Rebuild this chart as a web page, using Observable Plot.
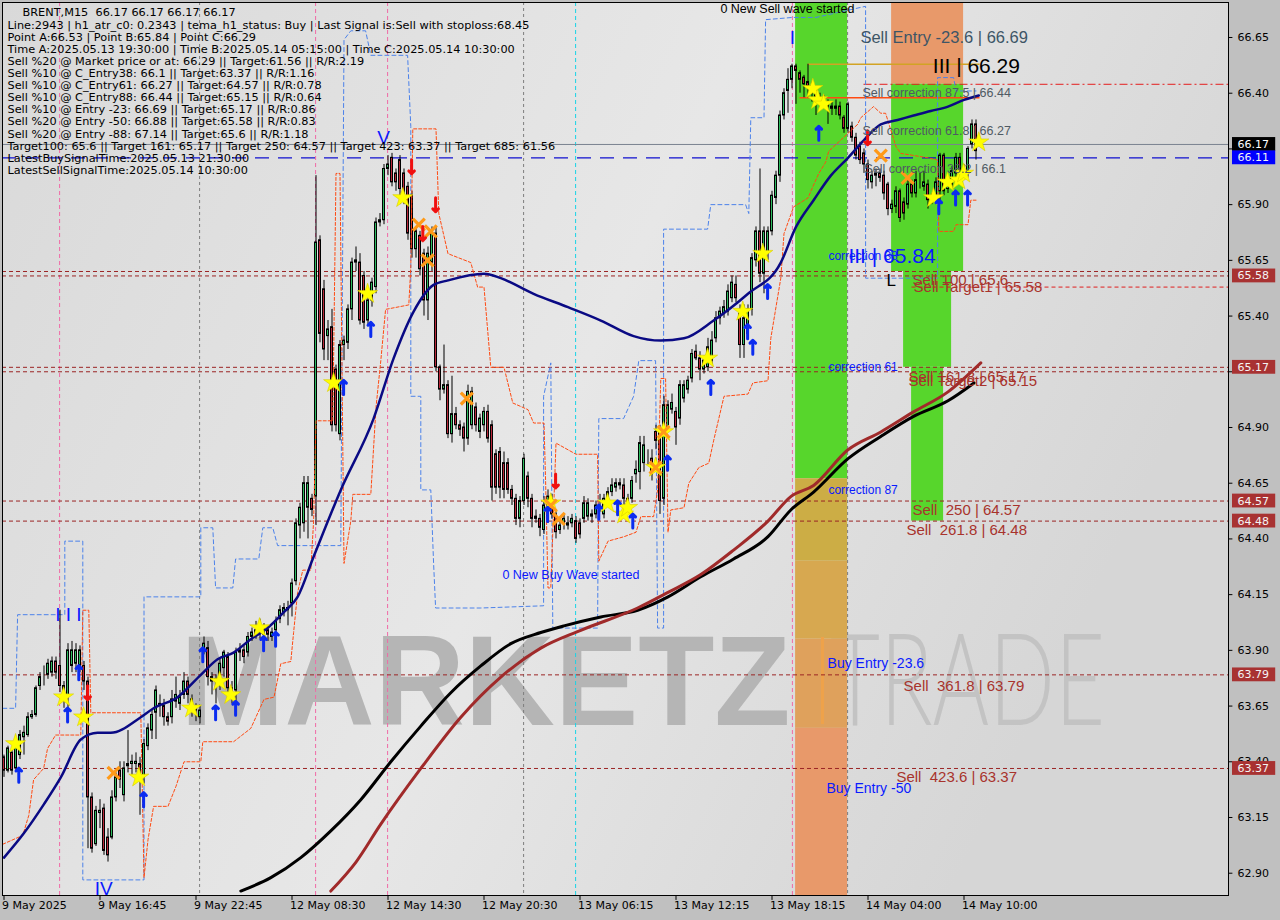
<!DOCTYPE html>
<html><head><meta charset="utf-8">
<script src="https://cdn.jsdelivr.net/npm/d3@7"></script>
<script src="https://cdn.jsdelivr.net/npm/@observablehq/plot@0.6"></script>
<style>html,body{margin:0;padding:0;background:#c0c0c0;overflow:hidden}</style>
</head><body><div id="chart"></div>
<script>
// ---------- candles (BRENT M15), bar index 0..244 ----------
const opens = [
63.42,63.36,63.44,63.37,63.43,63.51,63.52,63.60,63.61,63.74,
63.78,63.79,63.80,63.85,63.83,63.72,63.69,63.83,63.84,63.83,
63.83,63.76,63.24,63.03,63.17,63.19,63.06,63.06,63.24,63.36,
63.25,63.38,63.39,63.39,63.39,63.33,63.47,63.54,63.62,63.66,
63.65,63.60,63.60,63.67,63.66,63.70,63.76,63.68,63.64,63.60,
63.91,63.91,63.78,63.76,63.78,63.82,63.87,63.73,63.72,63.89,
63.90,63.89,63.96,63.97,63.98,64.00,63.99,63.96,63.99,64.04,
64.07,64.08,64.11,64.21,64.46,64.47,64.54,64.58,64.59,65.74,
65.52,65.31,65.35,65.16,64.87,65.27,65.28,65.43,65.64,65.64,
65.58,65.38,65.47,65.53,65.82,65.83,66.06,66.11,66.04,66.10,
66.04,65.98,65.94,65.70,65.76,65.68,65.47,65.64,65.77,65.17,
65.07,65.09,64.87,64.96,64.91,64.90,64.85,64.91,64.99,64.88,
64.91,64.97,64.91,64.78,64.79,64.74,64.74,64.62,64.58,64.49,
64.57,64.68,64.58,64.50,64.49,64.44,64.49,64.58,64.51,64.44,
64.47,64.46,64.47,64.48,64.47,64.49,64.50,64.50,64.51,64.56,
64.51,64.57,64.61,64.63,64.65,64.64,64.55,64.58,64.69,64.70,
64.74,64.76,64.76,64.88,64.88,64.58,64.90,64.98,64.97,64.94,
65.03,65.07,65.12,65.24,65.21,65.16,65.17,65.20,65.30,65.39,
65.41,65.42,65.48,65.54,65.41,65.27,65.32,65.43,65.65,65.78,
65.59,65.68,65.78,65.93,66.03,66.30,66.41,66.46,66.52,66.49,
66.47,66.45,66.43,66.40,66.38,66.37,66.36,66.34,66.33,66.34,
66.29,66.24,66.25,66.20,66.16,66.13,66.08,66.00,66.03,66.04,
66.03,65.99,65.88,65.89,65.96,65.91,65.90,65.99,65.95,65.99,
65.98,65.99,65.92,65.93,65.96,66.12,65.97,65.99,66.04,66.11,
66.05,66.04,66.17,66.26,66.17];
const highs = [
63.43,63.47,63.46,63.50,63.54,63.56,63.62,63.63,63.74,63.80,
63.83,63.86,63.87,63.87,64.08,63.76,63.93,63.94,63.93,63.92,
63.85,63.78,63.26,63.20,63.23,63.21,63.10,63.27,63.35,63.40,
63.40,63.54,63.43,63.44,63.42,63.50,63.57,63.63,63.74,63.70,
63.68,63.62,63.72,63.78,63.72,63.80,63.78,63.70,63.66,63.65,
63.96,63.94,63.80,63.79,63.86,63.90,63.89,63.76,63.91,63.93,
63.92,63.98,64.00,64.03,64.04,64.02,64.01,64.00,64.05,64.10,
64.11,64.12,64.22,64.49,64.56,64.68,64.68,64.60,66.03,65.76,
65.56,65.38,65.43,65.18,65.29,65.31,65.45,65.66,65.71,65.68,
65.60,65.50,65.57,65.84,65.86,66.08,66.12,66.13,66.06,66.12,
66.06,66.00,65.96,65.80,65.78,65.70,65.71,65.80,65.80,65.18,
65.27,65.11,65.13,64.99,64.93,64.92,65.09,65.08,65.01,64.96,
64.99,65.00,64.93,64.80,64.81,64.79,64.76,64.64,64.60,64.59,
64.78,64.70,64.60,64.53,64.51,64.59,64.62,64.60,64.53,64.48,
64.51,64.50,64.51,64.50,64.49,64.59,64.58,64.53,64.57,64.60,
64.60,64.63,64.67,64.67,64.67,64.67,64.60,64.68,64.75,64.86,
64.86,64.80,64.80,64.91,64.91,65.04,65.02,65.05,64.99,65.11,
65.11,65.13,65.25,65.27,65.24,65.22,65.30,65.33,65.42,65.44,
65.47,65.54,65.58,65.58,65.45,65.45,65.45,65.68,65.80,66.06,
65.80,65.80,65.96,66.05,66.32,66.42,66.51,66.53,66.53,66.50,
66.48,66.53,66.45,66.42,66.40,66.39,66.37,66.36,66.37,66.36,
66.30,66.36,66.27,66.22,66.18,66.15,66.10,66.05,66.06,66.06,
66.05,66.00,65.92,65.98,65.97,65.93,66.01,66.01,66.05,66.04,
66.05,66.01,65.95,66.02,66.13,66.13,66.02,66.07,66.13,66.13,
66.08,66.16,66.28,66.28,66.17];
const lows = [
63.33,63.35,63.34,63.36,63.41,63.43,63.51,63.59,63.60,63.72,
63.74,63.77,63.78,63.77,63.71,63.64,63.62,63.80,63.80,63.80,
63.72,63.01,62.99,63.02,63.10,62.98,62.95,63.05,63.22,63.28,
63.22,63.35,63.34,63.35,63.16,63.30,63.45,63.50,63.50,63.60,
63.56,63.56,63.57,63.64,63.63,63.68,63.66,63.60,63.58,63.57,
63.88,63.74,63.70,63.66,63.72,63.78,63.70,63.66,63.64,63.85,
63.84,63.87,63.94,63.95,63.95,63.95,63.94,63.94,63.97,64.02,
64.05,64.01,64.05,64.19,64.40,64.43,64.40,64.50,64.46,65.28,
65.20,65.20,64.88,64.88,64.84,65.20,65.25,65.38,65.60,65.36,
65.34,65.36,65.44,65.50,65.80,65.81,66.03,65.98,65.96,65.90,
65.90,65.74,65.66,65.66,65.58,65.40,65.38,65.60,65.15,65.02,
65.05,64.85,64.83,64.89,64.86,64.79,64.82,64.89,64.88,64.85,
64.88,64.83,64.57,64.60,64.58,64.58,64.60,64.55,64.46,64.45,
64.55,64.54,64.45,64.47,64.41,64.42,64.47,64.49,64.40,64.42,
64.44,64.44,64.45,64.38,64.40,64.47,64.48,64.47,64.49,64.52,
64.49,64.55,64.59,64.61,64.62,64.53,64.53,64.56,64.65,64.62,
64.70,64.73,64.66,64.80,64.51,64.55,64.88,64.96,64.82,64.91,
65.01,65.05,65.10,65.20,65.11,65.14,65.15,65.18,65.28,65.36,
65.39,65.40,65.46,65.46,65.21,65.21,65.30,65.40,65.62,65.55,
65.50,65.65,65.76,65.90,66.00,66.28,66.31,66.42,66.35,66.40,
66.38,66.38,66.36,66.30,66.33,66.33,66.26,66.30,66.30,66.28,
66.22,66.22,66.18,66.10,66.08,66.04,65.97,65.97,65.98,66.00,
65.92,65.85,65.86,65.86,65.82,65.83,65.88,65.93,65.93,65.97,
65.96,65.88,65.90,65.91,65.90,65.94,65.95,65.97,66.02,66.03,
66.01,66.02,66.15,66.10,66.17];
const closes = [
63.36,63.46,63.36,63.48,63.52,63.53,63.60,63.61,63.73,63.78,
63.78,63.84,63.85,63.80,63.74,63.74,63.90,63.90,63.90,63.90,
63.76,63.24,63.01,63.18,63.18,63.00,62.98,63.24,63.33,63.32,
63.37,63.39,63.40,63.40,63.32,63.48,63.55,63.61,63.72,63.65,
63.60,63.58,63.68,63.70,63.69,63.76,63.70,63.64,63.63,63.63,
63.93,63.78,63.76,63.77,63.84,63.89,63.73,63.70,63.89,63.90,
63.87,63.96,63.98,63.99,64.01,63.97,63.97,63.98,64.03,64.08,
64.09,64.09,64.20,64.47,64.54,64.65,64.65,64.53,65.73,65.32,
65.25,65.34,64.91,64.91,65.27,65.29,65.43,65.64,65.65,65.38,
65.37,65.47,65.55,65.82,65.83,66.06,66.08,66.00,66.00,65.97,
65.94,65.77,65.70,65.78,65.61,65.47,65.68,65.77,65.17,65.07,
65.09,64.87,64.96,64.91,64.89,64.85,65.06,65.06,64.91,64.94,
64.97,64.85,64.63,64.63,64.63,64.62,64.62,64.58,64.49,64.57,
64.76,64.58,64.49,64.49,64.45,64.55,64.59,64.51,64.43,64.46,
64.49,64.47,64.49,64.40,64.42,64.56,64.56,64.51,64.55,64.56,
64.58,64.61,64.64,64.65,64.64,64.58,64.58,64.66,64.71,64.83,
64.82,64.76,64.69,64.84,64.57,65.00,65.00,65.01,64.90,65.09,
65.09,65.11,65.23,65.21,65.16,65.20,65.26,65.29,65.39,65.42,
65.44,65.51,65.55,65.48,65.27,65.39,65.43,65.66,65.78,65.59,
65.78,65.78,65.94,66.03,66.30,66.40,66.46,66.52,66.50,66.46,
66.44,66.43,66.40,66.38,66.37,66.36,66.34,66.33,66.34,66.30,
66.24,66.35,66.20,66.12,66.10,66.08,66.01,66.03,66.04,66.02,
65.95,65.88,65.90,65.96,65.84,65.86,65.99,65.95,66.01,65.99,
66.00,65.92,65.93,66.00,66.12,65.96,66.00,66.05,66.11,66.05,
66.05,66.15,66.26,66.14,66.17];

// ---------- axes ----------
const timeLabels = ["9 May 2025","9 May 16:45","9 May 22:45","12 May 08:30","12 May 14:30","12 May 20:30","13 May 06:15","13 May 12:15","13 May 18:15","14 May 04:00","14 May 10:00"];
const timeLabelBars = [0,24,48,72,96,120,144,168,192,216,240];
const priceTicks = [66.65,66.40,66.15,65.90,65.65,65.40,65.15,64.90,64.65,64.40,64.15,63.90,63.65,63.40,63.15,62.90];
const tagPrices = [66.17,66.11,65.58,65.17,64.57,64.48,63.79,63.37];

// ---------- indicator lines: [bar, price] ----------
const temaLine = [[0,62.97],[5,63.08],[10,63.21],[14.2,63.33],[19.2,63.50],[23.4,63.53],[26.7,63.53],[34.2,63.60],[37.4,63.64],[43.4,63.69],[49.2,63.79],[53.4,63.86],[57.4,63.89],[61.7,63.95],[65.9,64.00],[69.9,64.07],[73.4,64.14],[77.4,64.32],[84.2,64.62],[92.4,64.94],[97.4,65.21],[102.4,65.42],[107.4,65.54],[111,65.56],[120,65.59],[124.2,65.57],[132.4,65.50],[141,65.44],[149.2,65.38],[157.4,65.31],[164.2,65.29],[170,65.30],[177.4,65.38],[186,65.50],[194.2,65.64],[198,65.80],[202.4,65.92],[206.7,66.03],[211,66.11],[215,66.19],[219.2,66.26],[223.4,66.28],[227.4,66.30],[231.7,66.32],[236,66.34],[240,66.37],[243.7,66.39]];
const slowBlack = [[59.2,62.82],[66.7,62.88],[74.2,62.97],[81.7,63.09],[89.2,63.23],[96.7,63.40],[104.2,63.56],[111.7,63.71],[119.2,63.83],[126.7,63.93],[134.2,63.98],[140,64.01],[149.2,64.05],[158.4,64.08],[166,64.14],[174.2,64.23],[182.4,64.31],[191,64.41],[196.7,64.53],[202.4,64.61],[211,64.76],[219.2,64.86],[227.4,64.95],[236,65.02],[242.5,65.10]];
const slowBrown = [[81.7,62.82],[88,62.95],[94.2,63.12],[104.2,63.37],[114.2,63.60],[124.2,63.78],[134.2,63.91],[144.2,63.99],[158.4,64.09],[166,64.16],[174.2,64.24],[182.4,64.35],[191,64.48],[196.7,64.59],[202.4,64.64],[211,64.80],[219.2,64.88],[227.4,64.97],[236,65.06],[244.2,65.19]];
const stopLine = [[-0.3,63.03],[4.7,63.07],[6.2,63.16],[7.4,63.32],[9.9,63.37],[10.9,63.46],[12.9,63.52],[19.2,63.52],[19.7,64.08],[21.2,64.08],[21.7,63.62],[34.2,63.62],[35,62.88],[36,63.05],[37.4,63.20],[41,63.20],[43,63.29],[45,63.40],[49.2,63.40],[49.7,63.49],[57.4,63.49],[61.7,63.55],[65,63.68],[67.5,63.69],[69.2,63.84],[71.7,63.85],[72.4,63.98],[73.4,64.16],[74.7,64.26],[76.7,64.26],[77.4,64.48],[78,64.93],[82.2,64.93],[83,66.04],[84,66.04],[85,64.29],[86.7,64.48],[87.2,64.60],[91.7,64.60],[93,64.99],[94.2,65.20],[95.4,65.43],[101.2,65.45],[101.7,65.62],[102.2,66.24],[108,66.24],[108.7,65.86],[111,65.68],[116.7,65.64],[118.4,65.53],[120,65.53],[121.7,65.17],[125,65.17],[127.2,65.01],[131,64.98],[132.4,64.92],[135,64.92],[135.4,64.66],[136,64.18],[136.7,64.18],[138,64.83],[143,64.78],[148.4,64.78],[148.7,64.30],[151,64.39],[155,64.41],[158,64.43],[159.2,64.50],[162.4,64.50],[163.4,64.62],[164.2,65.12],[165.4,65.12],[166,64.43],[166.7,64.53],[170,64.54],[171.2,64.65],[173.7,64.72],[176.2,64.74],[177.4,64.84],[180,65.04],[186,65.05],[187.2,65.10],[191,65.11],[191.7,65.30],[194.2,65.57],[195,65.77],[197.4,65.89],[201,65.93],[202.2,65.98],[203.7,66.04],[205.4,66.09],[206.2,66.14],[209.2,66.19],[211,66.22],[213.4,66.26],[214.2,66.29],[217.4,66.34],[219.2,66.31],[220.4,66.31],[223,66.16],[224.2,66.13],[231,66.11],[233.4,66.10],[233.7,65.78],[237.4,65.78],[238,65.81],[241,65.81],[241.7,65.92],[243,65.92]];
const bandLine = [[-0.3,63.64],[2.9,63.64],[3.4,64.06],[15.2,64.06],[15.2,64.39],[19.7,64.39],[19.7,62.87],[35,62.87],[35,64.14],[49.2,64.14],[49.2,64.45],[52.2,64.45],[52.9,64.18],[57.2,64.18],[57.9,64.31],[63.7,64.31],[64.7,64.45],[67.2,64.45],[68.4,64.37],[84.2,64.37],[85,66.64],[86.7,66.68],[90.4,66.68],[91.7,66.57],[100.9,66.57],[101.7,66.25],[101.7,65.04],[104.2,65.04],[104.2,64.62],[106.7,64.62],[107.4,64.29],[107.9,64.09],[119.2,64.09],[134.9,64.10],[134.9,65.04],[136.7,65.19],[137.2,64.00],[148.4,64.00],[148.7,64.94],[154.9,64.94],[157.4,65.04],[158.7,65.20],[162.9,65.20],[163.4,64.00],[164.9,64.00],[164.9,65.79],[175.9,65.79],[176.7,65.90],[185.4,65.90],[186.2,65.86],[186.7,66.29],[190,66.29],[190.4,66.73],[197.2,66.74],[203,66.74],[215.4,66.79],[215.4,65.57],[233.4,65.57],[233.4,66.47],[237.4,66.47],[238,66.41],[243,66.41]];

// ---------- horizontal levels ----------
const targetLevels = [65.60,65.58,65.17,65.15,64.57,64.48,63.79,63.37];
const lastPrice = 66.17;
const bidLine = 66.11;
const pointALevel = 66.53;
const stopLevel = 66.38;
const entryLevel = 66.44;
const target1Level = 65.53;

// ---------- vertical separators (bar index) ----------
const pinkSeparators = [13.9,77.9,95.9,197.1];
const graySeparators = [48.9,129.9,210.9];
const cyanSeparators = [142.9];

// ---------- zones: bar range, price range (null = chart edge) ----------
const zoneRects = [
 {b1:197.9,b2:210.9,p1:64.67,p2:null,kind:"green"},
 {b1:197.9,b2:210.9,p1:64.30,p2:64.67,kind:"khaki"},
 {b1:197.9,b2:210.9,p1:63.95,p2:64.30,kind:"amber"},
 {b1:197.9,b2:210.9,p1:63.55,p2:63.95,kind:"apricot"},
 {b1:197.9,b2:210.9,p1:null,p2:63.55,kind:"salmon"},
 {b1:221.9,b2:239.9,p1:66.44,p2:null,kind:"salmon"},
 {b1:221.9,b2:239.9,p1:65.60,p2:66.44,kind:"green"},
 {b1:224.9,b2:236.9,p1:65.17,p2:65.60,kind:"green"},
 {b1:226.9,b2:234.9,p1:64.48,p2:65.17,kind:"green"}
];

// ---------- signal markers [bar, price] ----------
const stars = [[2.9,63.48],[14.9,63.69],[19.9,63.60],[33.7,63.33],[46.9,63.64],[53.9,63.76],[56.7,63.70],[63.9,64.00],[82.4,65.10],[90.9,65.50],[99.7,65.93],[136.7,64.56],[150.9,64.56],[154.9,64.51],[155.9,64.54],[162.9,64.72],[164.9,64.88],[175.9,65.21],[184.7,65.42],[189.7,65.68],[202.2,66.42],[203.4,66.37],[204.9,66.35],[232.4,65.93],[235.9,66.00],[238.7,66.01],[239.9,66.04],[243.7,66.18]];
const crosses = [[27.4,63.35],[103.7,65.81],[106.7,65.78],[105.9,65.65],[115.7,65.03],[136.7,64.55],[138.7,64.49],[162.9,64.72],[164.9,64.88],[219.2,66.12],[225.9,66.02]];
const sellArrows = [[20.9,63.71],[101.9,66.07],[107.9,65.90],[104.7,65.77],[137.9,64.66],[215.9,66.20]];
const buyArrows = [[3.7,63.34],[15.9,63.61],[18.7,63.80],[34.9,63.23],[49.7,63.88],[52.9,63.62],[57.9,63.64],[64.9,63.93],[67.9,63.95],[84.9,65.08],[91.7,65.34],[135.9,64.51],[148.7,64.52],[153.4,64.54],[157.2,64.48],[165.9,64.74],[176.7,65.08],[185.9,65.33],[187.2,65.26],[190.9,65.51],[203.7,66.22],[233.7,65.89],[237.9,65.93],[240.9,65.93]];

// ---------- annotations {text, bar, price} ----------
const sellEntryLabels = [{text:"Sell Entry -23.6 | 66.69", bar:214.1, price:66.65}];
const pointLabels = [{text:"III | 66.29", bar:232.2, price:66.52}];
const corrLabels = [
 {text:"Sell correction 87.5 | 66.44", bar:214.6, price:66.40},
 {text:"Sell correction 61.8 | 66.27", bar:214.6, price:66.23},
 {text:"Sell correction 38.2 | 66.1", bar:215.1, price:66.06}];
const bigBlueLabels = [{text:"III | 65.84", bar:211.1, price:65.67}];
const smallBlueLabels = [
 {text:"correction 38", bar:206.1, price:65.67},
 {text:"correction 61", bar:206.1, price:65.17},
 {text:"correction 87", bar:206.1, price:64.62}];
const buyEntryLabels = [
 {text:"Buy Entry -23.6", bar:205.9, price:63.84},
 {text:"Buy Entry -50", bar:205.6, price:63.28}];
const sellTargetLabels = [
 {text:"Sell 100 | 65.6", bar:227.1, price:65.56},
 {text:"Sell Target1 | 65.58", bar:227.4, price:65.53},
 {text:"Sell 161.8 | 65.17", bar:226.1, price:65.125},
 {text:"Sell Target2 | 65.15", bar:226.1, price:65.11},
 {text:"Sell  250 | 64.57", bar:227.1, price:64.53},
 {text:"Sell  261.8 | 64.48", bar:225.6, price:64.44},
 {text:"Sell  361.8 | 63.79", bar:224.9, price:63.74},
 {text:"Sell  423.6 | 63.37", bar:223.1, price:63.33}];
const waveLabels = [
 {text:"0 New Sell wave started", bar:179.1, price:66.776, side:"sell"},
 {text:"0 New Buy Wave started", bar:124.6, price:64.24, side:"buy"}];
const waveCountLabels = [
 {text:"I I I", bar:16.1, price:64.06},
 {text:"IV", bar:24.9, price:62.83},
 {text:"V", bar:94.9, price:66.20},
 {text:"I", bar:197.1, price:66.65}];
const letterL = [{text:"L", bar:220.6, price:65.56}];
const watermark = [{text:"MARKETZ", bar:120.4, price:63.75},{text:"TRADE", bar:240.9, price:63.75},{text:"I", bar:204.6, price:63.75}];

const headerLine = "BRENT,M15  66.17 66.17 66.17 66.17";
const infoLines = [
"Line:2943 | h1_atr_c0: 0.2343 | tema_h1_status: Buy | Last Signal is:Sell with stoploss:68.45",
"Point A:66.53 | Point B:65.84 | Point C:66.29",
"Time A:2025.05.13 19:30:00 | Time B:2025.05.14 05:15:00 | Time C:2025.05.14 10:30:00",
"Sell %20 @ Market price or at: 66.29 || Target:61.56 || R/R:2.19",
"Sell %10 @ C_Entry38: 66.1 || Target:63.37 || R/R:1.16",
"Sell %10 @ C_Entry61: 66.27 || Target:64.57 || R/R:0.78",
"Sell %10 @ C_Entry88: 66.44 || Target:65.15 || R/R:0.64",
"Sell %10 @ Entry -23: 66.69 || Target:65.17 || R/R:0.86",
"Sell %20 @ Entry -50: 66.88 || Target:65.58 || R/R:0.83",
"Sell %20 @ Entry -88: 67.14 || Target:65.6 || R/R:1.18",
"Target100: 65.6 || Target 161: 65.17 || Target 250: 64.57 || Target 423: 63.37 || Target 685: 61.56",
"LatestBuySignalTime:2025.05.13 21:30:00",
"LatestSellSignalTime:2025.05.14 10:30:00"];

// ================= build =================
const xDom = [-0.375, 306.125];
const yDom = [62.80, 66.807];
const bars = closes.map((c, i) => ({i, o: opens[i], c,
  h: Math.max(highs[i], opens[i], c), l: Math.min(lows[i], opens[i], c)}));
const pts = a => a.map(([b, p]) => ({b, p}));
const zoneColor = {green:"#57d62c", khaki:"#ccad45", amber:"#d7a850", apricot:"#dfa15c", salmon:"#e8996a"};
const zones = zoneRects.map(z => ({...z, p1: z.p1 ?? yDom[0], p2: z.p2 ?? yDom[1]}));
const tagFill = p => p === lastPrice ? "#000000" : p === bidLine ? "#0000ff" : "#a83232";
const tagText = p => p === lastPrice ? "#ffffff" : "#f4f4f4";
const SANS = "'Liberation Sans', Arial, sans-serif";
const DEJA = "'DejaVu Sans', Verdana, sans-serif";
const arrowMarks = (data, rot, color) => Plot.vector(pts(data), {x:"b", y:"p", length:14, rotate:rot, anchor:"middle", stroke:color, strokeWidth:3});
const labelMarks = (data, opts) => Plot.text(data, {x:"bar", y:"price", text:"text", textAnchor:"start", fontFamily:SANS, ...opts});

const chart = Plot.plot({
  width:1280, height:920, marginLeft:2, marginRight:52, marginTop:2, marginBottom:25,
  x:{domain:xDom, axis:null}, y:{domain:yDom, axis:null},
  style:{background:"transparent", fontFamily:DEJA, fontSize:"11px", overflow:"visible"},
  marks:[
    Plot.frame({fill:"url(#bgGrad)", stroke:"none"}),
    Plot.text(watermark.slice(0,1), {x:"bar", y:"price", text:"text", fontSize:128, fontWeight:"bold", fill:"#b5b5b5", fontFamily:SANS}),
    Plot.text(watermark.slice(1,2), {x:"bar", y:"price", text:"text", fontSize:128, fontWeight:300, fill:"#c3c3c3", fontFamily:"Lato, 'Open Sans', sans-serif"}),
    Plot.rect(zones, {x1:"b1", x2:"b2", y1:"p1", y2:"p2", fill:d => zoneColor[d.kind]}),
    Plot.text(watermark.slice(2,3), {x:"bar", y:"price", text:"text", fontSize:127, fill:"#eea24a", fontFamily:SANS}),
    Plot.ruleX(pinkSeparators, {stroke:"#f06aa6", strokeDasharray:"4,3"}),
    Plot.ruleX(graySeparators, {stroke:"#7d7d7d", strokeDasharray:"3,3"}),
    Plot.ruleX(cyanSeparators, {stroke:"#19d3e6", strokeDasharray:"4,3"}),
    Plot.ruleY(targetLevels, {stroke:"#9b2424", strokeDasharray:"4,3"}),
    Plot.ruleY([entryLevel], {x1:215, x2:xDom[1], stroke:"#e41e1e", strokeDasharray:"8,3,2,3"}),
    Plot.ruleY([target1Level], {x1:227, x2:xDom[1], stroke:"#e01e1e", strokeDasharray:"4,3"}),
    Plot.ruleY([pointALevel], {x1:201, x2:244, stroke:"#d2a324", strokeWidth:1.5}),
    Plot.ruleY([stopLevel], {x1:199, x2:244, stroke:"#ff4a12", strokeWidth:1.5}),
    Plot.ruleY([lastPrice], {stroke:"#7a8290"}),
    Plot.ruleY([bidLine], {stroke:"#1010d0", strokeDasharray:"14,9", strokeWidth:1.2}),
    Plot.line(pts(bandLine), {x:"b", y:"p", stroke:"#4c82ea", strokeDasharray:"4,3", strokeWidth:1}),
    Plot.ruleX(bars, {x:"i", y1:"l", y2:"h", stroke:"#000", strokeWidth:1}),
    Plot.rect(bars, {x1:d => d.i - 0.25, x2:d => d.i + 0.25, y1:"o", y2:"c", fill:d => d.c >= d.o ? "#2dbb5f" : "#b8283a", stroke:"#000", strokeWidth:1}),
    Plot.line(pts(stopLine), {x:"b", y:"p", stroke:"#ff4a12", strokeDasharray:"3,2", strokeWidth:1}),
    Plot.line(pts(slowBlack), {x:"b", y:"p", stroke:"#000", strokeWidth:3, curve:"monotone-x"}),
    Plot.line(pts(slowBrown), {x:"b", y:"p", stroke:"#a02a2a", strokeWidth:3, curve:"monotone-x"}),
    Plot.line(pts(temaLine), {x:"b", y:"p", stroke:"#0a0a84", strokeWidth:2.5, curve:"monotone-x"}),
    Plot.dot(pts(stars), {x:"b", y:"p", symbol:"star", r:6.3, fill:"#ffff00", stroke:"#d8cc00", strokeWidth:0.6}),
    Plot.dot(pts(crosses), {x:"b", y:"p", symbol:"times", r:5.5, stroke:"#ff9a18", strokeWidth:3.2}),
    arrowMarks(buyArrows, 0, "#0b2cf0"),
    arrowMarks(sellArrows, 180, "#f01010"),
    // annotations
    labelMarks(sellEntryLabels, {fontSize:16.5, fill:"#3d5566"}),
    labelMarks(pointLabels, {fontSize:21, fill:"#000"}),
    labelMarks(corrLabels, {fontSize:12.5, fill:"#4f5a63"}),
    labelMarks(bigBlueLabels, {fontSize:21, fill:"#0a1aff"}),
    labelMarks(smallBlueLabels, {fontSize:12, fill:"#0a1aff"}),
    labelMarks(buyEntryLabels, {fontSize:14, fill:"#0a1aff"}),
    labelMarks(sellTargetLabels, {fontSize:15, fill:"#a8332c"}),
    labelMarks(letterL, {fontSize:17, fill:"#000"}),
    labelMarks(waveLabels, {fontSize:12.5, fill:d => d.side === "buy" ? "#0a1aff" : "#000"}),
    Plot.text(waveCountLabels, {x:"bar", y:"price", text:"text", fontSize:19, fill:"#0a1aff", fontFamily:SANS}),
    // info block
    Plot.text([headerLine], {frameAnchor:"top-left", dx:20, dy:5, lineAnchor:"top", fontSize:11.3, fill:"#000", fontFamily:DEJA}),
    Plot.text([infoLines.join("\n")], {frameAnchor:"top-left", dx:5, dy:18, lineAnchor:"top", lineHeight:12.05/11.3, fontSize:11.3, fill:"#000", fontFamily:DEJA}),
    // time axis
    Plot.ruleX(timeLabelBars, {y1:yDom[0], y2:yDom[0] - 0.022, stroke:"#000"}),
    Plot.text(timeLabelBars, {x:d => d, text:(d, k) => timeLabels[k], frameAnchor:"bottom", dy:13, dx:-2, textAnchor:"start", fontSize:11, fill:"#000"}),
    // price axis
    Plot.ruleY(priceTicks, {x1:xDom[1], x2:xDom[1] + 1.1, stroke:"#000"}),
    Plot.text(priceTicks.filter(p => !tagPrices.some(t => Math.abs(t - p) < 0.025)), {y:d => d, text:d => d.toFixed(2), frameAnchor:"right", dx:9, textAnchor:"start", fontSize:11, fill:"#000"}),
    Plot.rect(tagPrices, {x1:xDom[1] + 1, x2:xDom[1] + 11.8, y1:d => d - 0.031, y2:d => d + 0.031, fill:tagFill}),
    Plot.text(tagPrices, {y:d => d, text:d => d.toFixed(2), frameAnchor:"right", dx:9, textAnchor:"start", fontSize:11, fill:tagText}),
    Plot.frame({stroke:"#000", strokeWidth:1})
  ]
});

document.getElementById("chart").appendChild(chart);
const svg = d3.select(chart);
svg.insert("defs", ":first-child").html(
 '<linearGradient id="bgGrad" x1="0" y1="0" x2="1" y2="0.35">' +
 '<stop offset="0" stop-color="#d9d9d9"/><stop offset="0.55" stop-color="#e7e7e7"/><stop offset="1" stop-color="#d6d6d6"/></linearGradient>');
svg.selectAll("text").filter(function(){ return this.textContent === "MARKETZ"; })
  .attr("textLength", 610).attr("lengthAdjust", "spacingAndGlyphs");
svg.selectAll("text").filter(function(){ return this.textContent === "TRADE"; })
  .attr("textLength", 275).attr("lengthAdjust", "spacingAndGlyphs");
svg.selectAll("text").filter(function(){ return this.textContent === "I" && window.getComputedStyle(this).fontSize === "127px"; })
  .attr("textLength", 9).attr("lengthAdjust", "spacingAndGlyphs");
</script>
</body></html>
